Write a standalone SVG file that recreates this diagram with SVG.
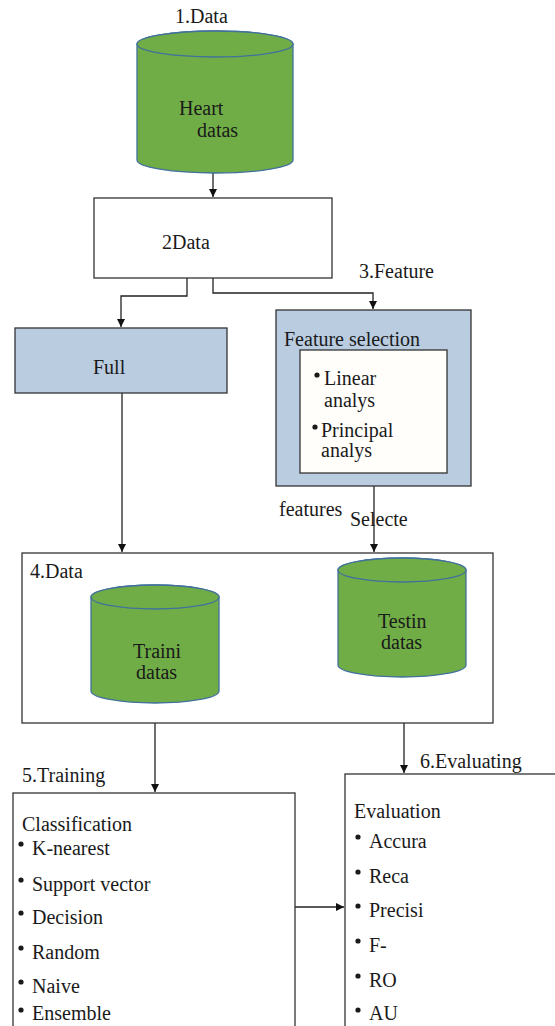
<svg xmlns="http://www.w3.org/2000/svg" width="555" height="1026" viewBox="0 0 555 1026">
<defs>
<style>
text{font-family:"Liberation Serif","Times New Roman",serif;font-size:20px;fill:#1a1a1a}
.box{fill:#ffffff;stroke:#333;stroke-width:1.3}
.blue{fill:#b9cce0;stroke:#333;stroke-width:1.3}
.cyl{fill:#70ad47;stroke:#41719c;stroke-width:1.3}
.con{fill:none;stroke:#222;stroke-width:1.3}
.dot{fill:#1a1a1a}
</style>
<marker id="arr" viewBox="0 0 10 10" refX="10" refY="5" markerWidth="8" markerHeight="8" markerUnits="userSpaceOnUse" orient="auto">
<path d="M0,0 L10,5 L0,10 z" fill="#111"/>
</marker>
</defs>
<rect width="555" height="1026" fill="#ffffff"/>

<g id="connectors">
<path class="con" d="M213,173 V197" marker-end="url(#arr)"/>
<path class="con" d="M187,278 V296 H121 V327" marker-end="url(#arr)"/>
<path class="con" d="M213,278 V293 H373 V309" marker-end="url(#arr)"/>
<path class="con" d="M122,393 V552" marker-end="url(#arr)"/>
<path class="con" d="M374,486 V552" marker-end="url(#arr)"/>
<path class="con" d="M155,703 V792" marker-end="url(#arr)"/>
<path class="con" d="M404,677 V773" marker-end="url(#arr)"/>
<path class="con" d="M295,907 H344" marker-end="url(#arr)"/>
</g>

<g id="node1">
<text x="175" y="23">1.Data</text>
<path class="cyl" d="M137,44 V160 A78,13 0 0 0 293,160 V44 A78,13 0 0 0 137,44 Z"/>
<ellipse class="cyl" cx="215" cy="44" rx="78" ry="13"/>
<text x="179" y="115">Heart</text>
<text x="197" y="137">datas</text>
</g>

<g id="node2">
<rect class="box" x="94" y="198" width="238" height="80"/>
<text x="162" y="249">2Data</text>
</g>

<g id="node3label">
<text x="359" y="278">3.Feature</text>
</g>

<g id="full">
<rect class="blue" x="15" y="328" width="212" height="65"/>
<text x="93" y="374">Full</text>
</g>

<g id="feature">
<rect class="blue" x="276" y="310" width="195" height="176"/>
<text x="284" y="346">Feature selection</text>
<rect x="300" y="350" width="147" height="123" fill="#fffefb" stroke="#333" stroke-width="1.3"/>
<circle class="dot" cx="317" cy="375" r="2.6"/>
<text x="324" y="385">Linear</text>
<text x="324" y="407">analys</text>
<circle class="dot" cx="315" cy="427" r="2.6"/>
<text x="321" y="437">Principal</text>
<text x="321" y="457">analys</text>
</g>

<g id="selected-label">
<text x="279" y="516">features</text>
<text x="350" y="526">Selecte</text>
</g>

<g id="data4">
<rect class="box" x="22" y="553" width="471" height="170"/>
<text x="30" y="578">4.Data</text>
</g>

<g id="training-data">
<path class="cyl" d="M91,597 V691 A64,12 0 0 0 219,691 V597 A64,12 0 0 0 91,597 Z"/>
<ellipse class="cyl" cx="155" cy="597" rx="64" ry="12"/>
<text x="133" y="658">Traini</text>
<text x="136" y="679">datas</text>
</g>

<g id="testing-data">
<path class="cyl" d="M338,570 V665 A64,12 0 0 0 466,665 V570 A64,12 0 0 0 338,570 Z"/>
<ellipse class="cyl" cx="402" cy="570" rx="64" ry="12"/>
<text x="378" y="628">Testin</text>
<text x="381" y="649">datas</text>
</g>

<g id="training">
<text x="22" y="782">5.Training</text>
<rect class="box" x="13" y="793" width="282" height="250"/>
<text x="22" y="831">Classification</text>
<circle class="dot" cx="21" cy="844" r="2.6"/>
<text x="32" y="855">K-nearest</text>
<circle class="dot" cx="21" cy="880" r="2.6"/>
<text x="32" y="891">Support vector</text>
<circle class="dot" cx="21" cy="913" r="2.6"/>
<text x="32" y="924">Decision</text>
<circle class="dot" cx="21" cy="948" r="2.6"/>
<text x="32" y="959">Random</text>
<circle class="dot" cx="21" cy="982" r="2.6"/>
<text x="32" y="993">Naive</text>
<circle class="dot" cx="21" cy="1010" r="2.6"/>
<text x="32" y="1020">Ensemble</text>
</g>

<g id="evaluating">
<text x="420" y="768">6.Evaluating</text>
<rect class="box" x="345" y="774" width="230" height="270"/>
<text x="354" y="818">Evaluation</text>
<circle class="dot" cx="358" cy="837" r="2.6"/>
<text x="369" y="848">Accura</text>
<circle class="dot" cx="358" cy="872" r="2.6"/>
<text x="369" y="883">Reca</text>
<circle class="dot" cx="358" cy="906" r="2.6"/>
<text x="369" y="917">Precisi</text>
<circle class="dot" cx="358" cy="941" r="2.6"/>
<text x="369" y="952">F-</text>
<circle class="dot" cx="358" cy="976" r="2.6"/>
<text x="369" y="987">RO</text>
<circle class="dot" cx="358" cy="1010" r="2.6"/>
<text x="369" y="1020">AU</text>
</g>
</svg>
